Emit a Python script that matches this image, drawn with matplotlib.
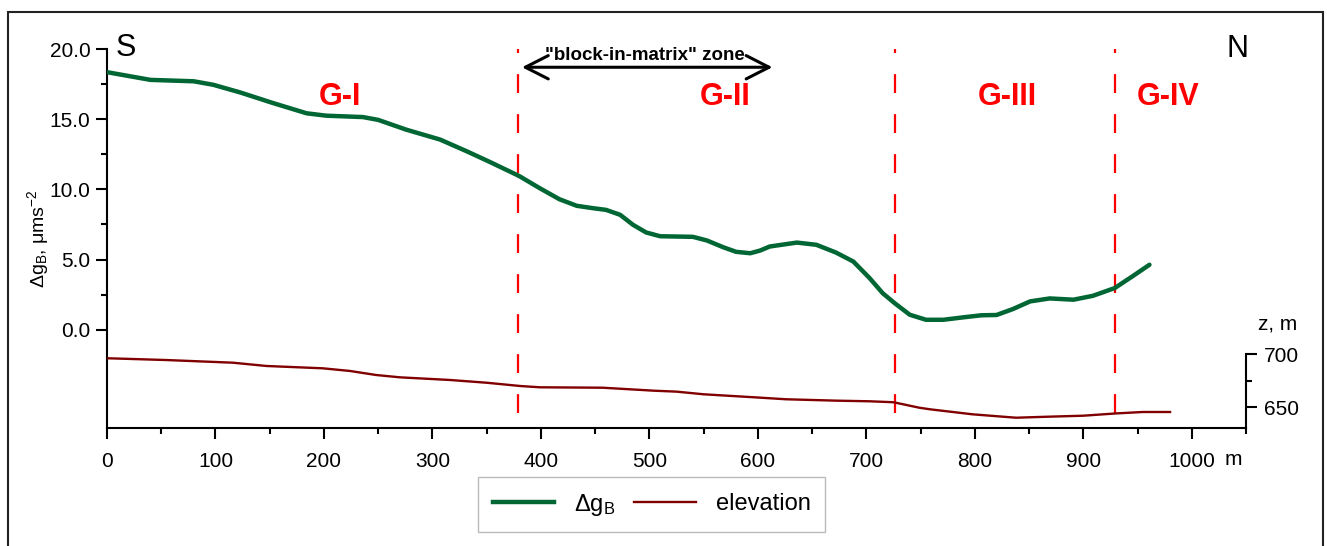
import numpy as np
import matplotlib
matplotlib.use('Agg')
import matplotlib.pyplot as plt
from matplotlib.patches import Rectangle
from matplotlib.lines import Line2D
from matplotlib.ticker import MultipleLocator, FormatStrFormatter
from matplotlib.transforms import blended_transform_factory

plt.rcParams['font.family'] = ['Liberation Sans', 'DejaVu Sans']
plt.rcParams['mathtext.default'] = 'regular'

# Bouguer anomaly along the profile
dist_g = [0, 40, 80, 98, 123, 153, 184, 202, 236, 250, 276, 307, 332, 353, 380,
          399, 417, 433, 448, 460, 473, 485, 497, 510, 525, 540, 553, 568, 580,
          593, 602, 611, 636, 654, 672, 688, 703, 715, 726, 740, 755, 771, 789,
          806, 820, 835, 851, 869, 891, 909, 929, 946, 961]
dg_b = [18.35, 17.8, 17.7, 17.45, 16.9, 16.15, 15.42, 15.25, 15.15, 14.95, 14.25,
        13.55, 12.7, 11.95, 10.95, 10.08, 9.3, 8.83, 8.66, 8.54, 8.19, 7.47, 6.93,
        6.66, 6.64, 6.62, 6.36, 5.88, 5.55, 5.45, 5.64, 5.93, 6.21, 6.05, 5.5,
        4.86, 3.68, 2.61, 1.9, 1.07, 0.71, 0.71, 0.88, 1.03, 1.05, 1.47, 2.02,
        2.23, 2.14, 2.42, 2.97, 3.84, 4.63]

# elevation along the profile
dist_z = [0, 55, 116, 147, 199, 224, 248, 270, 316, 350, 381, 399, 457, 504, 525,
          550, 596, 626, 672, 703, 725, 749, 759, 798, 838, 869, 900, 931, 955, 980]
elev = [696, 694.3, 691.8, 688.7, 686.5, 684, 680.2, 678, 675.5, 672.9, 669.8,
        668.6, 668.2, 665.4, 664.5, 662, 659.2, 657.3, 656, 655.4, 654.5, 649.3,
        647.8, 643.1, 639.9, 640.9, 641.8, 644, 645.3, 645.3]

# zone boundaries and labels
bounds = [379, 726, 929]
zone_names = ['G-I', 'G-II', 'G-III', 'G-IV']
zone_x = [215, 570, 830, 978]

green = '#006633'
darkred = '#800000'
red = '#ff0000'

fig = plt.figure(figsize=(13.27, 5.46), dpi=100)
ax = fig.add_axes([107/1327, 1 - 428/546, (1246 - 107)/1327, (428 - 49)/546])

ax.plot(dist_g, dg_b, color=green, lw=3.2, solid_capstyle='round',
        solid_joinstyle='round', zorder=3)
for b in bounds:
    ax.plot([b, b], [-5.9, 20], color=red, lw=1.6,
            linestyle=(0, (8.5, 9.5)), zorder=2)

ax.set_xlim(0, 1050)
ax.set_ylim(-7, 20)
ax.set_yticks([0, 5, 10, 15, 20])
ax.set_yticks([2.5, 7.5, 12.5, 17.5], minor=True)
ax.yaxis.set_major_formatter(FormatStrFormatter('%.1f'))
ax.xaxis.set_major_locator(MultipleLocator(100))
ax.xaxis.set_minor_locator(MultipleLocator(50))
ax.spines['top'].set_visible(False)
ax.spines['right'].set_visible(False)
for s in ['left', 'bottom']:
    ax.spines[s].set_linewidth(1.5)
ax.tick_params(which='major', length=8, width=1.5, labelsize=15, direction='out')
ax.tick_params(which='minor', length=4, width=1.5, direction='out')
ax.tick_params(axis='x', which='major', pad=9)
ax.tick_params(axis='y', which='major', pad=4)
ax.set_ylabel('Δg$_B$, μms$^{-2}$', fontsize=14)
ax.yaxis.set_label_coords(-0.049, 0.5)

trans = blended_transform_factory(ax.transData, ax.transAxes)
ax.text(1038, -0.082, 'm', transform=trans, fontsize=15, ha='center', va='center')

ax2 = ax.twinx()
ax2.set_position(ax.get_position())
ax2.plot(dist_z, elev, color=darkred, lw=1.7, solid_joinstyle='round', zorder=3)
ax2.set_ylim(630.2, 987.7)
ax2.set_yticks([650, 700])
ax2.set_yticks([675], minor=True)
for s in ['top', 'left', 'bottom']:
    ax2.spines[s].set_visible(False)
ax2.spines['right'].set_bounds(630.2, 700)
ax2.spines['right'].set_linewidth(1.5)
ax2.tick_params(which='major', length=8, width=1.5, labelsize=15, direction='out',
                pad=5)
ax2.tick_params(which='minor', length=4, width=1.5, direction='out')
ax2.text(1.028, 0.275, 'z, m', transform=ax2.transAxes, fontsize=15,
         ha='center', va='center')

# zone labels and markers
for name, xz in zip(zone_names, zone_x):
    ax.text(xz, 16.55, name, color=red, fontsize=22, fontweight='bold',
            ha='center', va='center')
ax.text(8, 20.1, 'S', fontsize=22, ha='left', va='center')
ax.text(1042, 20.0, 'N', fontsize=22, ha='center', va='center')

ax.annotate('', xy=(380, 18.7), xytext=(616, 18.7),
            arrowprops=dict(arrowstyle='<->, head_length=0.55, head_width=0.28',
                            color='black', lw=2.2, mutation_scale=30))
ax.text(496, 19.55, '"block-in-matrix" zone', fontsize=13.5, fontweight='bold',
        ha='center', va='center')

handles = [Line2D([], [], color=green, lw=3.2),
           Line2D([], [], color=darkred, lw=1.7)]
fig.legend(handles, ['Δg$_B$', 'elevation'], loc='center',
           bbox_to_anchor=(651.5/1327, 1 - 504.5/546), ncol=2, fontsize=17,
           frameon=True, fancybox=False, edgecolor='#aaaaaa', handlelength=2.6,
           handletextpad=0.85, columnspacing=0.8, borderpad=0.6)

fig.add_artist(Rectangle((8/1327, -0.05), (1323 - 8)/1327, 1 - 12/546 + 0.05,
                         transform=fig.transFigure, fill=False,
                         edgecolor='#222222', lw=1.5, clip_on=False))

fig.savefig('out.png', dpi=100)
plt.close(fig)
